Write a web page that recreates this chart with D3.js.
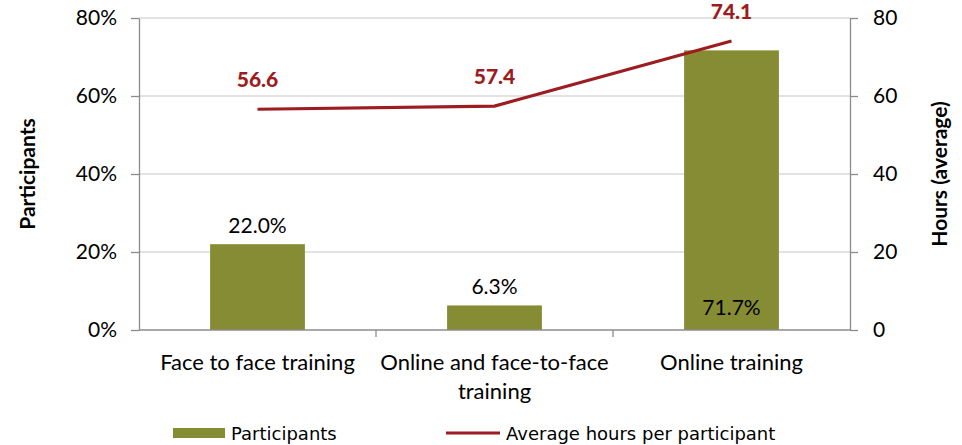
<!DOCTYPE html>
<html>
<head>
<meta charset="utf-8">
<script src="https://cdn.jsdelivr.net/npm/d3@7"></script>
<style>
  body { margin: 0; background: #fff; }
  svg text { font-family: Lato, "Open Sans", sans-serif; fill: #000; }
</style>
</head>
<body>
<div id="chart"></div>
<script>
// Data
const categories = ["Face to face training", "Online and face-to-face training", "Online training"];
const participants = [22.0, 6.3, 71.7];
const avgHours = [56.6, 57.4, 74.1];
const leftTicks = [0, 20, 40, 60, 80];
const rightTicks = [0, 20, 40, 60, 80];

const W = 962, H = 445;
const margin = {top: 18, right: 112, bottom: 115, left: 139};
const width = 850 - margin.left;
const height = 330 - margin.top;

const barColor = "#868c33";
const lineColor = "#9c1c20";

const svg = d3.select("#chart").append("svg")
    .attr("width", W)
    .attr("height", H);

const g = svg.append("g")
    .attr("transform", `translate(${margin.left},${margin.top})`);

// Scales
const x = d3.scaleBand()
  .domain(categories)
  .range([0, width])
  .paddingInner(0.6)
  .paddingOuter(0.3);

const xStep = d3.scaleBand().domain(categories).range([0, width]);

const yL = d3.scaleLinear().domain([0, 80]).range([height, 0]);
const yR = d3.scaleLinear().domain([0, 80]).range([height, 0]);

// Gridlines
g.selectAll(".grid")
  .data(leftTicks.filter(d => d > 0))
  .enter().append("line")
    .attr("x1", 0).attr("x2", width)
    .attr("y1", d => yL(d)).attr("y2", d => yL(d))
    .attr("stroke", "#d9d9d9")
    .attr("stroke-width", 1.3);

// Left axis
const leftAxis = g.append("g")
  .call(d3.axisLeft(yL).tickValues(leftTicks).tickFormat(d => d + "%").tickSize(8).tickSizeOuter(0));
leftAxis.select(".domain").attr("stroke", "#8c8c8c").attr("stroke-width", 1.3);
leftAxis.selectAll(".tick line").attr("stroke", "#8c8c8c").attr("stroke-width", 1.3);
leftAxis.selectAll("text").attr("x", -22).style("font-size", "21px");

// Right axis
const rightAxis = g.append("g")
  .attr("transform", `translate(${width},0)`)
  .call(d3.axisRight(yR).tickValues(rightTicks).tickSize(8).tickSizeOuter(0));
rightAxis.select(".domain").attr("stroke", "#8c8c8c").attr("stroke-width", 1.3);
rightAxis.selectAll(".tick line").attr("stroke", "#8c8c8c").attr("stroke-width", 1.3);
rightAxis.selectAll("text").attr("x", 23).style("font-size", "21px");

// Bars
g.selectAll(".bar")
  .data(participants)
  .enter().append("rect")
    .attr("x", (d, i) => x(categories[i]))
    .attr("y", d => yL(d))
    .attr("width", x.bandwidth())
    .attr("height", d => height - yL(d))
    .attr("fill", barColor);

// Bottom axis
const bottom = g.append("g").attr("transform", `translate(0,${height})`);
bottom.append("line")
  .attr("x1", 0).attr("x2", width)
  .attr("stroke", "#8c8c8c").attr("stroke-width", 1.3);
bottom.selectAll(".xtick")
  .data(categories.slice(1))
  .enter().append("line")
    .attr("x1", d => xStep(d)).attr("x2", d => xStep(d))
    .attr("y1", 0).attr("y2", 7)
    .attr("stroke", "#8c8c8c").attr("stroke-width", 1.3);

const catLines = [["Face to face training"], ["Online and face-to-face", "training"], ["Online training"]];
bottom.selectAll(".xlabel")
  .data(categories)
  .enter().append("text")
    .attr("x", d => x(d) + x.bandwidth() / 2)
    .attr("y", 40)
    .attr("text-anchor", "middle")
    .style("font-size", "22px")
    .each(function(d, i) {
      d3.select(this).selectAll("tspan")
        .data(catLines[i])
        .enter().append("tspan")
          .attr("x", x(d) + x.bandwidth() / 2)
          .attr("dy", (t, j) => j === 0 ? 0 : 29)
          .text(t => t);
    });

// Bar labels
g.selectAll(".barlabel")
  .data(participants)
  .enter().append("text")
    .attr("x", (d, i) => x(categories[i]) + x.bandwidth() / 2)
    .attr("y", d => d > 50 ? height - 15 : yL(d) - 11)
    .attr("text-anchor", "middle")
    .style("font-size", "21px")
    .text(d => d.toFixed(1) + "%");

// Line
const line = d3.line()
  .x((d, i) => x(categories[i]) + x.bandwidth() / 2)
  .y(d => yR(d));

g.append("path")
  .datum(avgHours)
  .attr("d", line)
  .attr("fill", "none")
  .attr("stroke", lineColor)
  .attr("stroke-width", 3.2);

g.selectAll(".linelabel")
  .data(avgHours)
  .enter().append("text")
    .attr("x", (d, i) => x(categories[i]) + x.bandwidth() / 2)
    .attr("y", d => yR(d) - 22)
    .attr("text-anchor", "middle")
    .style("font-size", "21px")
    .style("font-weight", "900")
    .style("fill", lineColor)
    .text(d => d.toFixed(1));

// Axis titles
svg.append("text")
  .attr("transform", `translate(35,${margin.top + height / 2}) rotate(-90)`)
  .attr("text-anchor", "middle")
  .style("font-size", "21px")
  .style("font-weight", "bold")
  .text("Participants");

svg.append("text")
  .attr("transform", `translate(947,${margin.top + height / 2}) rotate(-90)`)
  .attr("text-anchor", "middle")
  .style("font-size", "21px")
  .style("font-weight", "bold")
  .text("Hours (average)");

// Legend
const legend = svg.append("g").attr("transform", "translate(0,433)");
legend.append("rect")
  .attr("x", 173).attr("y", -5)
  .attr("width", 52).attr("height", 10)
  .attr("fill", barColor);
legend.append("text")
  .attr("x", 231).attr("y", 7)
  .style("font-family", "'DejaVu Sans', sans-serif")
  .style("font-size", "18px")
  .text("Participants");
legend.append("line")
  .attr("x1", 446).attr("x2", 500)
  .attr("y1", 0).attr("y2", 0)
  .attr("stroke", lineColor)
  .attr("stroke-width", 3.2);
legend.append("text")
  .attr("x", 506).attr("y", 7)
  .style("font-family", "'DejaVu Sans', sans-serif")
  .style("font-size", "18px")
  .text("Average hours per participant");
</script>
</body>
</html>
